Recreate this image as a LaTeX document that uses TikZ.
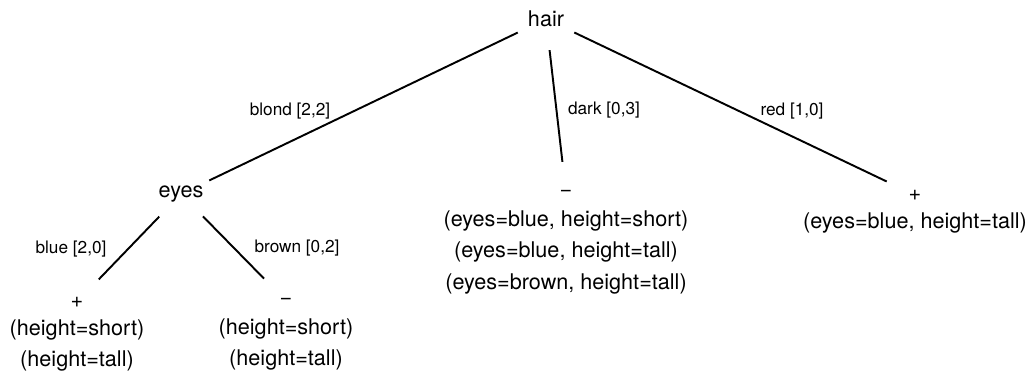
\documentclass[tikz,border=0pt]{standalone}
\usepackage{fontspec}
\setmainfont{TeX Gyre Heros}
\usetikzlibrary{positioning}

\tikzset{
  attr/.style={circle, inner sep=0pt, minimum size=1.24cm, font=\fontsize{12.3}{18}\selectfont},
  examples/.style={align=center, inner sep=0pt, font=\fontsize{12.3}{18}\selectfont},
  branch/.style={inner sep=0pt, font=\fontsize{9.8}{12}\selectfont},
  link/.style={line width=1.1pt}
}

\begin{document}
\begin{tikzpicture}
  \useasboundingbox (0,0) rectangle (20.62,7.58);

  % Tests
  \node[attr] (hair) at (10.92,7.20) {hair};
  \node[attr] (eyes) at (3.62,3.70) {eyes};

  % Leaves
  \node[attr] (plusBlue) at (1.54,1.54) {+};
  \node[attr] (minusBrown) at (5.72,1.56) {−};
  \node[attr] (minusDark) at (11.32,3.72) {−};
  \node[attr] (plusRed) at (18.30,3.68) {+};

  % Examples under the leaves
  \node[examples, below=0.34cm of plusBlue.center] (exBlue) {(height=short)\\(height=tall)};
  \node[examples, below=0.34cm of minusBrown.center] (exBrown) {(height=short)\\(height=tall)};
  \node[examples, below=0.34cm of minusDark.center] (exDark)
    {(eyes=blue, height=short)\\(eyes=blue, height=tall)\\(eyes=brown, height=tall)};
  \node[examples, below=0.34cm of plusRed.center] (exRed) {(eyes=blue, height=tall)};

  % Branches
  \draw[link] (hair) -- (eyes);
  \draw[link] (hair) -- (minusDark);
  \draw[link] (hair) -- (plusRed);
  \draw[link] (eyes) -- (plusBlue);
  \draw[link] (eyes) -- (minusBrown);

  \node[branch] (lblBlond) at (5.80,5.36) {blond [2,2]};
  \node[branch] (lblDark) at (12.08,5.38) {dark [0,3]};
  \node[branch] (lblRed) at (15.84,5.36) {red [1,0]};
  \node[branch] (lblBlue) at (1.42,2.60) {blue [2,0]};
  \node[branch] (lblBrown) at (5.94,2.62) {brown [0,2]};
\end{tikzpicture}
\end{document}
